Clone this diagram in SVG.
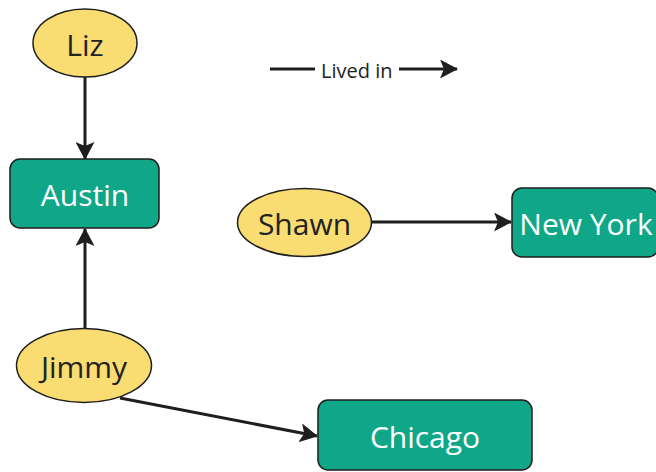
<svg xmlns="http://www.w3.org/2000/svg" width="656" height="472" viewBox="0 0 656 472">
  <style>
    .person { fill: #F9DC72; stroke: #1E1E1E; stroke-width: 1.5; }
    .city { fill: #0FA788; stroke: #1E1E1E; stroke-width: 1.5; }
    .label { font-family: "Open Sans", "Liberation Sans", sans-serif; font-size: 30px; text-anchor: middle; dominant-baseline: central; }
    .dark { fill: #222222; }
    .light { fill: #FFFFFF; }
    .edge { stroke: #1E1E1E; stroke-width: 3; fill: none; marker-end: url(#head); }
    .legend { font-family: "Open Sans", "Liberation Sans", sans-serif; font-size: 20px; fill: #222222; dominant-baseline: central; }
  </style>
  <defs>
    <marker id="head" markerUnits="userSpaceOnUse" viewBox="0 0 18 19" refX="17" refY="9.5" markerWidth="18" markerHeight="19" orient="auto">
      <path d="M0,0 L18,9.5 L0,19 L4,9.5 z" fill="#1E1E1E"/>
    </marker>
  </defs>
  <rect width="656" height="472" fill="#FFFFFF"/>

  <g id="connectors">
    <line class="edge" x1="85" y1="77" x2="85" y2="159"/>
    <line class="edge" x1="85" y1="328" x2="85" y2="229"/>
    <line class="edge" x1="372" y1="222" x2="511" y2="222"/>
    <line class="edge" x1="120" y1="398" x2="317" y2="436"/>
  </g>

  <g id="legend">
    <line x1="270" y1="69" x2="315" y2="69" stroke="#1E1E1E" stroke-width="3"/>
    <text class="legend" x="321" y="70">Lived in</text>
    <line x1="399" y1="69" x2="457" y2="69" stroke="#1E1E1E" stroke-width="3" marker-end="url(#head)"/>
  </g>

  <g id="liz">
    <ellipse class="person" cx="85" cy="43" rx="52" ry="34"/>
    <text class="label dark" x="85" y="44">Liz</text>
  </g>

  <g id="austin">
    <rect class="city" x="10" y="159" width="149" height="69" rx="10"/>
    <text class="label light" x="85" y="194">Austin</text>
  </g>

  <g id="shawn">
    <ellipse class="person" cx="304.5" cy="222.5" rx="67" ry="34"/>
    <text class="label dark" x="304.5" y="223">Shawn</text>
  </g>

  <g id="new-york">
    <rect class="city" x="512" y="188" width="146" height="69" rx="10"/>
    <text class="label light" x="586" y="223">New York</text>
  </g>

  <g id="jimmy">
    <ellipse class="person" cx="84" cy="365.5" rx="67.5" ry="37"/>
    <text class="label dark" x="84" y="366">Jimmy</text>
  </g>

  <g id="chicago">
    <rect class="city" x="318" y="400" width="214" height="70" rx="10"/>
    <text class="label light" x="425" y="436">Chicago</text>
  </g>
</svg>
